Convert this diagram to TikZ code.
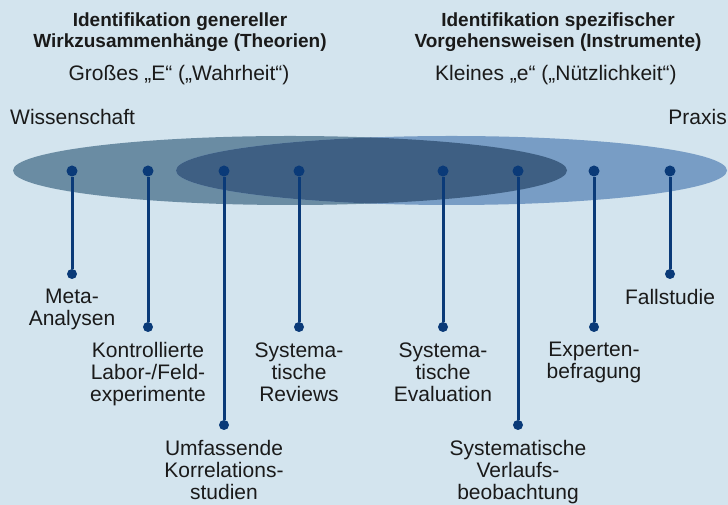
\documentclass[tikz,border=0pt]{standalone}
\usepackage{fontspec}
\setmainfont{Liberation Sans}
\usepackage{tikz}
\usetikzlibrary{positioning}
\definecolor{MBack}{HTML}{D3E4EE}
\definecolor{MWiss}{HTML}{6A8CA3}
\definecolor{MPrax}{HTML}{789DC5}
\definecolor{MBoth}{HTML}{3E5F83}
\definecolor{MNavy}{HTML}{0A3A78}
\definecolor{MText}{HTML}{1A1A1A}

\begin{document}
\begin{tikzpicture}[
  x=1pt,y=1pt,
  dot/.style={circle,fill=MNavy,inner sep=0pt,minimum size=11pt},
  foot/.style={circle,fill=MNavy,inner sep=0pt,minimum size=10pt},
  lab/.style={align=center,inner sep=0pt,text=MText,font=\fontsize{21}{22}\selectfont},
  head/.style={align=center,inner sep=0pt,text=MText,font=\bfseries\fontsize{19}{21}\selectfont},
  ln/.style={draw=MNavy,line width=3pt}
]
  \fill[MBack] (0,0) rectangle (728,505);
  % the two fields and where they meet
  \fill[MWiss] (290,334.5) ellipse [x radius=277pt,y radius=34.5pt];
  \fill[MPrax] (451.5,334.5) ellipse [x radius=275.5pt,y radius=34.5pt];
  \begin{scope}
    \clip (290,334.5) ellipse [x radius=277pt,y radius=34.5pt];
    \fill[MBoth] (451.5,334.5) ellipse [x radius=275.5pt,y radius=34.5pt];
  \end{scope}

  \node[head,anchor=base] (gen) at (180,457) {Identifikation genereller\\Wirkzusammenhänge (Theorien)};
  \node[lab,anchor=base] (wahr) at (179,424) {Großes „E“ („Wahrheit“)};
  \node[head,anchor=base] (spez) at (558,457) {Identifikation spezifischer\\Vorgehensweisen (Instrumente)};
  \node[lab,anchor=base] (nutz) at (556,424) {Kleines „e“ („Nützlichkeit“)};
  \node[lab,anchor=base west] (wiss) at (10,380) {Wissenschaft};
  \node[lab,anchor=base east] (prax) at (727,380) {Praxis};

  \foreach \n/\x/\y in {1/72/231,2/148/178,3/224/80,4/299/178,5/443/178,6/518/80,7/594/178,8/670/231}
  {
    \node[dot] (t\n) at (\x,334) {};
    \node[foot] (b\n) at (\x,\y) {};
    \draw[ln] (t\n) -- (b\n);
  }

  \node[lab,below=10pt of b1] (meta) {Meta-\\Analysen};
  \node[lab,below=10pt of b2] (kontr) {Kontrollierte\\Labor-/Feld-\\experimente};
  \node[lab,below=10pt of b3] (korr) {Umfassende\\Korrelations-\\studien};
  \node[lab,below=10pt of b4] (rev) {Systema-\\tische\\Reviews};
  \node[lab,below=10pt of b5] (eval) {Systema-\\tische\\Evaluation};
  \node[lab,below=10pt of b6] (verl) {Systematische\\Verlaufs-\\beobachtung};
  \node[lab,below=10pt of b7] (expt) {Experten-\\befragung};
  \node[lab,below=10pt of b8] (fall) {Fallstudie};
\end{tikzpicture}
\end{document}
